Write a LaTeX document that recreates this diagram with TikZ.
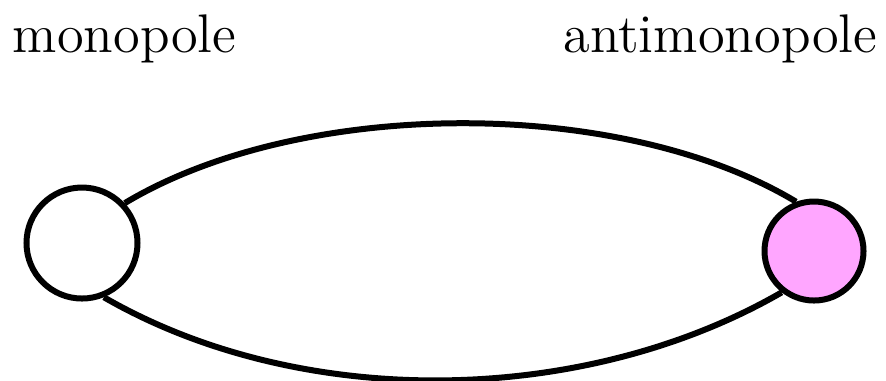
\documentclass[tikz,border=0pt]{standalone}
\usetikzlibrary{positioning}
\definecolor{antipink}{HTML}{FFA6FF}

\begin{document}
\begin{tikzpicture}[
  x=0.25pt, y=-0.25pt,
  font=\fontsize{13.6}{16}\selectfont,
  pole/.style={draw, circle, line width=1.5pt, inner sep=0pt},
  label/.style={inner sep=0pt},
  string/.style={line width=1.5pt, looseness=0.78}
]
\useasboundingbox (0,0) rectangle (886,380);
\node[pole, minimum size=27.75pt] (mono) at (82,243) {};
\node[pole, fill=antipink, minimum size=24.75pt] (anti) at (814,251) {};
\node[label, anchor=base west] (monotext) at (12,52) {monopole};
\node[label, anchor=base east] (antitext) at (878,52) {antimonopole};
\draw[string] (mono.43) to[out=31, in=149] (anti.110);
\draw[string, looseness=0.86] (mono.-68) to[out=-30, in=-150] (anti.-128);
\end{tikzpicture}
\end{document}
